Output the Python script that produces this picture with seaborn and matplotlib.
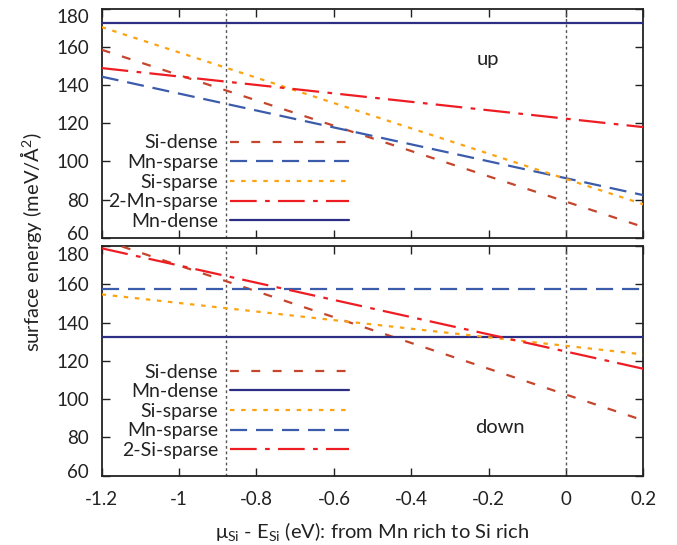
import numpy as np
import pandas as pd
import matplotlib
matplotlib.use("Agg")
import matplotlib.pyplot as plt
import matplotlib.transforms as mtransforms
import seaborn as sns

# ---------------- data ----------------
x_range = [-1.2, 0.2]

up_labels = ["Si-dense", "Mn-sparse", "Si-sparse", "2-Mn-sparse", "Mn-dense"]
up_start = [158.6, 144.5, 170.5, 149.0, 172.5]
up_end = [65.6, 82.3, 77.5, 118.0, 172.5]

down_labels = ["Si-dense", "Mn-dense", "Si-sparse", "Mn-sparse", "2-Si-sparse"]
down_start = [183.3, 132.6, 154.7, 157.7, 178.8]
down_end = [88.8, 132.6, 123.3, 157.7, 115.8]

x_ticks = [-1.2, -1.0, -0.8, -0.6, -0.4, -0.2, 0.0, 0.2]
x_tick_labels = ["-1.2", "-1", "-0.8", "-0.6", "-0.4", "-0.2", "0", "0.2"]
y_ticks = [60, 80, 100, 120, 140, 160, 180]
ref_lines = [-0.88, 0.0]

# ---------------- style ----------------
sns.set_style("ticks")
plt.rcParams["font.family"] = ["Lato", "DejaVu Sans"]
plt.rcParams["mathtext.fontset"] = "custom"
plt.rcParams["mathtext.rm"] = "Lato"
plt.rcParams["mathtext.it"] = "Lato:italic"
plt.rcParams["axes.edgecolor"] = "#222222"
FS = 14
TFS = 13.5

styles = {
    "Si-dense": ("#c5452c", (0, (4.0, 5.6))),
    "Mn-sparse": ("#3b5bab", (0, (7.7, 4.0))),
    "Si-sparse": ("#fca311", (0, (2.0, 3.0))),
    "2-Mn-sparse": ("#ee1d24", (0, (12.0, 3.8, 2.1, 3.7))),
    "2-Si-sparse": ("#ee1d24", (0, (12.0, 3.8, 2.1, 3.7))),
    "Mn-dense": ("#2b2e83", "-"),
}

fig = plt.figure(figsize=(6.77, 5.45), dpi=100)
ax1 = fig.add_axes([0.1502, 0.5639, 0.8003, 0.4196])
ax2 = fig.add_axes([0.1502, 0.1275, 0.8003, 0.4211])


def draw_panel(ax, labels, starts, ends, legend_top_px):
    rows = []
    for lab, s, e in zip(labels, starts, ends):
        rows.append({"series": lab, "x": x_range[0], "y": s})
        rows.append({"series": lab, "x": x_range[1], "y": e})
    df = pd.DataFrame(rows)
    for xv in ref_lines:
        ax.axvline(xv, color="#555555", lw=1.0, linestyle=(0, (2, 2)), zorder=1)
    handles = []
    for lab in labels:
        col, ls = styles[lab]
        sns.lineplot(data=df[df["series"] == lab], x="x", y="y", ax=ax,
                     color=col, linestyle=ls, lw=1.6, label=lab, zorder=3)
        handles.append(ax.lines[-1])
    ax.set_xlim(-1.2, 0.2)
    ax.set_ylim(60, 180)
    ax.set_xticks(x_ticks)
    ax.set_yticks(y_ticks)
    ax.set_xlabel("")
    ax.set_ylabel("")
    ax.tick_params(direction="in", length=5.8, width=1.0, top=True, right=True,
                   labelsize=TFS, colors="#222222")
    ax.tick_params(axis="y", pad=9)
    ax.tick_params(axis="x", pad=11)
    for sp in ax.spines.values():
        sp.set_linewidth(1.3)
    leg = ax.legend(handles=handles, labels=labels, loc="upper right",
                    bbox_to_anchor=(349 / 677, 1 - legend_top_px / 545),
                    bbox_transform=fig.transFigure, frameon=False,
                    markerfirst=False, handlelength=6.1, handletextpad=0.62,
                    labelspacing=0.135, borderpad=0, borderaxespad=0,
                    fontsize=FS)
    for t in leg.get_texts():
        t.set_color("#222222")
    return leg


draw_panel(ax1, up_labels, up_start, up_end, 134.5)
draw_panel(ax2, down_labels, down_start, down_end, 363.5)

ax1.set_xticklabels([])
ax2.set_xticklabels(x_tick_labels)


def shift_ylabel(ax, idx, dy_px):
    tick = ax.yaxis.get_major_ticks()[idx]
    off = mtransforms.ScaledTranslation(0, dy_px / 100.0, fig.dpi_scale_trans)
    tick.label1.set_transform(tick.label1.get_transform() + off)


shift_ylabel(ax1, 6, -7)
shift_ylabel(ax1, 0, 4.5)
shift_ylabel(ax2, 6, -8)
shift_ylabel(ax2, 0, 4.5)

ax1.text(-0.203, 153.3, "up", fontsize=FS + 0.5, ha="center", va="center", color="#222222")
ax2.text(-0.171, 84.9, "down", fontsize=FS + 0.5, ha="center", va="center", color="#222222")

fig.text(0.0458, 0.556, "surface energy (meV/Å$^2$)", rotation=90,
         ha="center", va="center", fontsize=FS + 0.5, color="#222222")
fig.text(0.5502, 1 - 538 / 545, "μ$_{\\mathrm{Si}}$ - E$_{\\mathrm{Si}}$ (eV): from Mn rich to Si rich",
         ha="center", va="baseline", fontsize=FS + 0.5, color="#222222")

fig.savefig("out.png", dpi=100)
